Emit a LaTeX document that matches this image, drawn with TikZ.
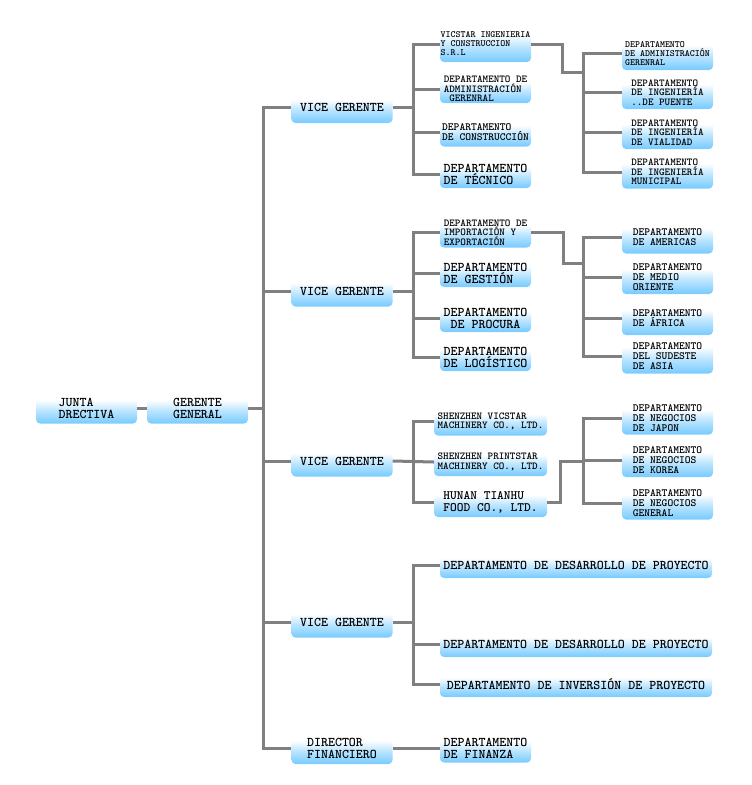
\documentclass[tikz,border=0pt]{standalone}
\definecolor{bb}{RGB}{125,205,255}
\definecolor{ln}{RGB}{128,128,128}
\pgfdeclareverticalshading{boxshade}{100bp}{color(0bp)=(bb); color(27bp)=(bb); color(45bp)=(bb!55!white); color(63bp)=(white); color(100bp)=(white)}
\tikzset{
  box/.style={shading=boxshade, rounded corners=4pt, inner sep=0pt, align=left},
  fA/.style={font=\fontsize{13.3}{12}\selectfont\ttfamily\bfseries},
  fE/.style={font=\fontsize{12.8}{11.7}\selectfont\ttfamily\bfseries},
  fB/.style={font=\fontsize{11}{10}\selectfont\ttfamily\bfseries},
  fC/.style={font=\fontsize{10.6}{9.5}\selectfont\ttfamily\bfseries},
  fD/.style={font=\fontsize{9.5}{9}\selectfont\ttfamily\bfseries},
  w1/.style={minimum width=101pt, minimum height=31pt},
  w2/.style={minimum width=91pt, minimum height=28pt},
  w3/.style={minimum width=91pt, minimum height=33pt},
  w4/.style={minimum width=113pt, minimum height=28pt},
  w5/.style={minimum width=272pt, minimum height=26pt},
  conn/.style={draw=ln, line width=3pt}
}
\begin{document}
\begin{tikzpicture}[x=1pt,y=1pt]
\useasboundingbox (0,0) rectangle (752,-785);
% level 0/1
\node[box,w1,fA] (jd) at (86.5,-408) {JUNTA\\DRECTIVA};
\node[box,w1,fA] (gg) at (197.5,-408) {GERENTE\\GENERAL};
\node[box,w1,fA] (vg1) at (342,-107.5) {VICE GERENTE};
\node[box,w1,fA] (vg2) at (342,-291) {VICE GERENTE};
\node[box,w1,fA] (vg3) at (342,-461) {VICE GERENTE};
\node[box,w1,fA] (vg4) at (342,-622) {VICE GERENTE};
\node[box,w1,fA] (df) at (342,-748.5) {DIRECTOR\\FINANCIERO};
% group 1
\node[box,w2,fD,minimum height=36pt] (a1) at (485.5,-44) {VICSTAR INGENIERIA\\Y CONSTRUCCION\\S.R.L};
\node[box,w2,fC] (a2) at (485.5,-89) {DEPARTAMENTO DE\\ADMINISTRACIÓN\\~GERENRAL};
\node[box,w2,fB] (a3) at (485.5,-132.5) {DEPARTAMENTO\\DE CONSTRUCCIÓN};
\node[box,w2,fA] (a4) at (485.5,-174) {DEPARTAMENTO\\DE TÉCNICO};
\node[box,w3,fD] (b1) at (667.5,-53.5) {DEPARTAMENTO\\DE ADMINISTRACIÓN\\GERENRAL};
\node[box,w3,fC] (b2) at (667.5,-92.5) {DEPARTAMENTO\\DE INGENIERÍA\\..DE PUENTE};
\node[box,w3,fC] (b3) at (667.5,-132.5) {DEPARTAMENTO\\DE INGENIERÍA\\DE VIALIDAD};
\node[box,w3,fC] (b4) at (667.5,-172) {DEPARTAMENTO\\DE INGENIERÍA\\MUNICIPAL};
% group 2
\node[box,w2,fC,minimum height=30pt] (c1) at (485.5,-232.5) {DEPARTAMENTO DE\\IMPORTACIÓN Y\\EXPORTACIÓN};
\node[box,w2,fA] (c2) at (485.5,-273) {DEPARTAMENTO\\DE GESTIÓN};
\node[box,w2,fA,align=center] (c3) at (485.5,-318) {DEPARTAMENTO\\DE PROCURA};
\node[box,w2,fA] (c4) at (485.5,-357) {DEPARTAMENTO\\DE LOGÍSTICO};
\node[box,w3,fB] (d1) at (667.5,-237) {DEPARTAMENTO\\DE AMERICAS};
\node[box,w3,fB] (d2) at (667.5,-277.5) {DEPARTAMENTO\\DE MEDIO\\ORIENTE};
\node[box,w3,fB] (d3) at (667.5,-318.5) {DEPARTAMENTO\\DE ÁFRICA};
\node[box,w3,fB,minimum height=35pt] (d4) at (667.5,-356) {DEPARTAMENTO\\DEL SUDESTE\\DE ASIA};
% group 3
\node[box,w4,fC] (e1) at (490.5,-421.5) {SHENZHEN VICSTAR\\MACHINERY CO., LTD.};
\node[box,w4,fC] (e2) at (490.5,-462) {SHENZHEN PRINTSTAR\\MACHINERY CO., LTD.};
\node[box,w4,fE,minimum height=29pt] (e3) at (490.5,-502.5) {HUNAN TIANHU\\FOOD CO., LTD.};
\node[box,w3,fB] (f1) at (667.5,-418) {DEPARTAMENTO\\DE NEGOCIOS\\DE JAPON};
\node[box,w3,fB] (f2) at (667.5,-460.5) {DEPARTAMENTO\\DE NEGOCIOS\\DE KOREA};
\node[box,w3,fB] (f3) at (667.5,-503) {DEPARTAMENTO\\DE NEGOCIOS\\GENERAL};
% group 4
\node[box,w5,fA] (g1) at (576,-565) {DEPARTAMENTO DE DESARROLLO DE PROYECTO};
\node[box,w5,fA] (g2) at (576,-644) {DEPARTAMENTO DE DESARROLLO DE PROYECTO};
\node[box,w5,fA] (g3) at (576,-684) {DEPARTAMENTO DE INVERSIÓN DE PROYECTO};
\node[box,w2,fA] (h1) at (485.5,-748.5) {DEPARTAMENTO\\DE FINANZA};
% trunk coordinates
\coordinate (T) at (263,0);
\coordinate (S) at (413,0);
\coordinate (U) at (583,0);
\coordinate (k1) at (562,-72);
\coordinate (k2) at (563,-263);
\coordinate (k3) at (560,-461);
% connectors
\begin{scope}[on background layer/.style={}]
\draw[conn] (jd.east) -- (gg.west);
\draw[conn] (gg.east) -- (gg.east -| T);
\draw[conn] (vg1.west) -- (vg1.west -| T) |- (df.west);
\draw[conn] (vg2.west) -- (vg2.west -| T);
\draw[conn] (vg3.west) -- (vg3.west -| T);
\draw[conn] (vg4.west) -- (vg4.west -| T);
% group 1
\draw[conn] (vg1.east) -- (vg1.east -| S);
\draw[conn] (a1.west) -- (a1.west -| S) |- (a4.west);
\draw[conn] (a2.west) -- (a2.west -| S);
\draw[conn] (a3.west) -- (a3.west -| S);
\draw[conn] (a1.east) -| (k1) -- (k1 -| U);
\draw[conn] (b1.west) -- (b1.west -| U) |- (b4.west);
\draw[conn] (b2.west) -- (b2.west -| U);
\draw[conn] (b3.west) -- (b3.west -| U);
% group 2
\draw[conn] (vg2.east) -- (vg2.east -| S);
\draw[conn] (c1.west) -- (c1.west -| S) |- (c4.west);
\draw[conn] (c2.west) -- (c2.west -| S);
\draw[conn] (c3.west) -- (c3.west -| S);
\draw[conn] (c1.east) -| (k2) -- (k2 -| U);
\draw[conn] (d1.west) -- (d1.west -| U) |- (d4.west);
\draw[conn] (d2.west) -- (d2.west -| U);
\draw[conn] (d3.west) -- (d3.west -| U);
% group 3
\draw[conn] (vg3.east) -- (e2.west);
\draw[conn] (e1.west) -- (e1.west -| S) |- (e3.west);
\draw[conn] (e3.east) -| (k3) -- (k3 -| U);
\draw[conn] (f1.west) -- (f1.west -| U) |- (f3.west);
\draw[conn] (f2.west) -- (f2.west -| U);
% group 4
\draw[conn] (vg4.east) -- (vg4.east -| S);
\draw[conn] (g1.west) -- (g1.west -| S) |- (g3.west);
\draw[conn] (g2.west) -- (g2.west -| S);
\draw[conn] (df.east) -- (h1.west);
\end{scope}
\end{tikzpicture}
\end{document}
